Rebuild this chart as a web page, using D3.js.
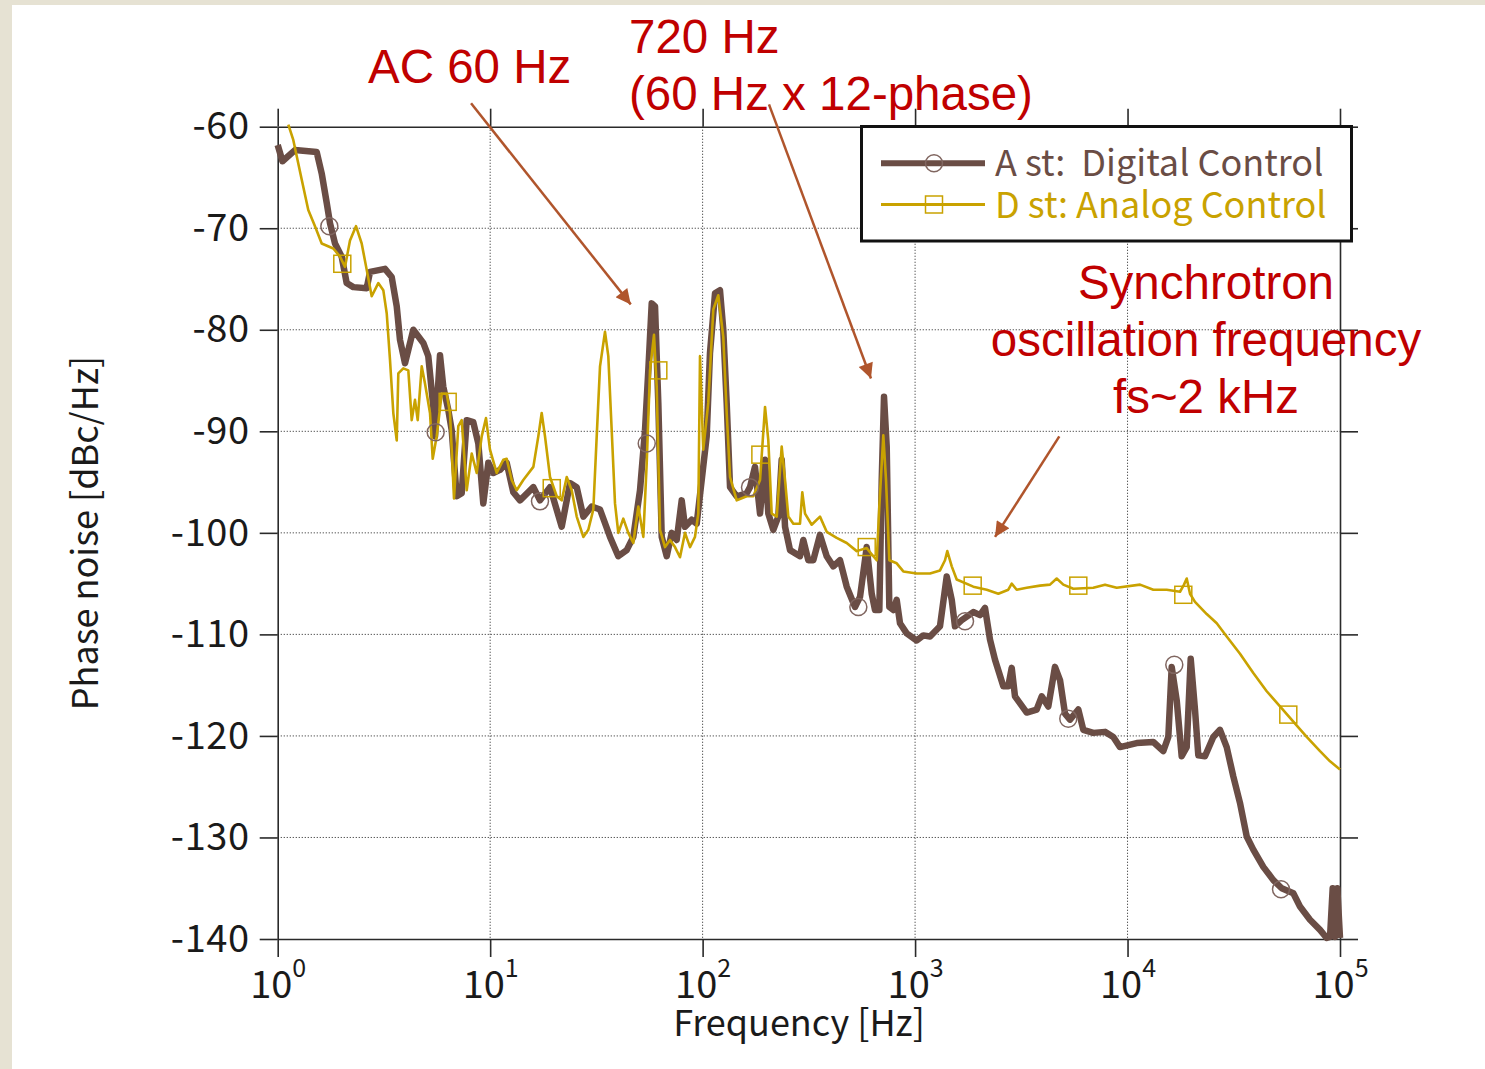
<!DOCTYPE html>
<html>
<head>
<meta charset="utf-8">
<script src="https://cdn.jsdelivr.net/npm/d3@7"></script>
<style>
  body { margin: 0; background: #fff; }
  svg { display: block; }
</style>
</head>
<body>
<script>
// ---- data ----
// A st: Digital Control (brown, thick)
var freqA = [
  1.0, 1.053, 1.206, 1.526, 1.611, 1.701, 1.763, 1.861, 2.001, 2.112,
  2.269, 2.624, 2.719, 3.199, 3.440, 3.633, 3.764, 3.974, 4.347, 4.845,
  5.114, 5.400, 5.501, 5.806, 6.017, 6.353, 6.592, 6.958, 7.345, 7.754,
  8.330, 8.796, 9.284, 9.80, 10.35, 11.12, 11.96, 12.85, 13.82, 15.97,
  17.16, 19.13, 21.72, 23.76, 25.55, 27.45, 30.06, 32.89, 36.65, 40.10,
  43.93, 47.18, 50.74, 53.56, 55.51, 57.60, 59.70, 61.87, 64.19, 67.76,
  71.54, 75.51, 79.72, 82.63, 88.84, 93.78, 99.0, 104.5, 108.3, 114.4,
  120.7, 125.1, 129.8, 134.6, 144.7, 161.3, 167.1, 176.4, 186.3, 196.7,
  203.8, 215.1, 227.1, 235.6, 244.3, 257.9, 287.3, 297.8, 314.4, 331.9,
  356.8, 383.7, 412.2, 443.2, 476.7, 521.5, 550.6, 592.0, 625.0, 647.9,
  678.8, 696.6, 714.1, 735.3, 756.4, 789.9, 819.5, 849.2, 913.1, 1018,
  1093, 1176, 1310, 1409, 1488, 1541, 1658, 1879, 2021, 2134,
  2252, 2378, 2602, 2747, 2850, 2953, 3353, 3736, 3945, 4237,
  4555, 4810, 5077, 5360, 5866, 6191, 6901, 7834, 8570, 9215,
  11040, 13220, 14730, 15560, 16140, 17040, 17980, 18990, 19830, 20770,
  21530, 23150, 25330, 27240, 29290, 31470, 33830, 36380, 39080, 43550,
  48550, 53170, 60290, 64800, 72240, 80540, 86560, 89760, 92380, 94740, 97120, 100000
];
var noiseA = [
  -61.8, -63.4, -62.3, -62.5, -64.6, -67.5, -69.5, -71.5, -72.8, -75.4,
  -75.8, -75.9, -74.3, -74.0, -74.8, -77.7, -81.0, -83.3, -80.0, -81.3,
  -82.6, -87.6, -90.5, -82.5, -85.6, -87.9, -89.9, -96.4, -96.1, -88.9,
  -89.1, -91.2, -97.1, -93.1, -94.1, -93.8, -93.1, -96.0, -96.8, -95.5,
  -96.8, -95.5, -99.4, -95.1, -95.5, -98.4, -97.4, -97.7, -100.4, -102.3,
  -101.7, -100.4, -95.8, -89.9, -84.0, -77.4, -77.7, -87.2, -100.4, -102.3,
  -100.0, -100.7, -96.8, -99.4, -98.7, -99.1, -94.8, -90.5, -82.3, -76.4,
  -76.1, -80.0, -87.2, -95.5, -96.4, -96.1, -95.5, -93.5, -98.1, -92.8,
  -98.1, -99.7, -98.4, -92.8, -99.4, -101.7, -102.3, -100.7, -102.7, -102.7,
  -100.2, -102.3, -103.3, -102.7, -105.3, -107.3, -106.3, -101.4, -106.0, -107.6,
  -107.6, -94.8, -86.6, -91.5, -107.3, -107.6, -106.6, -108.9, -109.9, -110.6,
  -110.1, -110.2, -109.2, -104.3, -106.6, -109.2, -108.6, -107.8, -108.1, -107.4,
  -110.5, -112.5, -115.1, -115.1, -113.3, -116.1, -117.7, -117.4, -116.1, -117.1,
  -113.2, -114.5, -117.8, -118.4, -117.4, -119.4, -119.7, -119.6, -120.1, -121.1,
  -120.7, -120.6, -121.5, -120.1, -113.2, -116.5, -122.0, -121.1, -112.4, -117.4,
  -121.9, -122.0, -120.1, -119.4, -121.1, -124.0, -126.6, -129.9, -131.2, -132.9,
  -134.2, -135.0, -135.5, -136.8, -138.1, -139.1, -139.9, -139.8, -135.0, -139.8, -135.0, -139.9
];

// D st: Analog Control (gold, thin)
var freqD = [
  1.122, 1.184, 1.297, 1.393, 1.498, 1.611, 1.827, 1.965, 2.074, 2.189,
  2.336, 2.485, 2.624, 2.770, 2.975, 3.141, 3.260, 3.378, 3.501, 3.633,
  3.696, 3.902, 4.119, 4.273, 4.428, 4.560, 4.762, 4.935, 5.210, 5.365,
  5.602, 5.914, 6.243, 6.471, 6.758, 7.080, 7.345, 7.754, 8.188, 8.645,
  9.125, 9.560, 9.98, 10.73, 11.53, 11.96, 12.63, 13.33, 14.32, 15.97,
  16.85, 17.48, 18.12, 19.13, 20.57, 21.72, 22.93, 24.20, 25.55, 27.45,
  28.97, 30.59, 31.73, 32.89, 34.72, 35.98, 37.33, 38.69, 40.10, 42.33,
  44.69, 47.18, 49.82, 52.59, 54.57, 56.55, 59.04, 60.79, 63.02, 66.53,
  70.24, 74.13, 78.26, 82.63, 87.22, 92.07, 95.44, 97.20, 100.7, 106.3,
  112.3, 118.5, 125.1, 129.8, 134.6, 144.7, 161.3, 173.2, 186.3, 196.7,
  203.8, 211.4, 223.3, 235.6, 244.3, 253.2, 267.3, 287.3, 294.5, 303.4,
  326.1, 356.8, 383.7, 427.6, 476.7, 531.3, 592.0, 636.0, 659.9, 678.8,
  708.7, 729.8, 756.4, 819.5, 880.3, 1018, 1176, 1310, 1383, 1418,
  1488, 1570, 1879, 2174, 2465, 2747, 2850, 3008, 3353, 3873,
  4316, 4640, 4985, 5556, 6901, 7834, 8892, 11450, 13220, 15290,
  17660, 18440, 18990, 19680, 20770, 23590, 26290, 29290, 33830, 39080,
  45190, 52190, 60290, 69700, 80540, 89760, 100000
];
var noiseD = [
  -59.8, -61.3, -65.2, -68.2, -69.8, -71.5, -72.0, -72.8, -73.8, -71.2,
  -69.8, -71.5, -74.1, -76.7, -75.4, -76.1, -78.4, -83.0, -88.2, -90.9,
  -84.3, -83.8, -84.0, -88.9, -86.9, -88.9, -83.6, -85.3, -88.2, -92.7,
  -90.5, -86.3, -86.3, -88.2, -96.6, -89.5, -88.9, -95.8, -92.2, -94.1,
  -90.5, -88.7, -91.8, -94.1, -92.8, -92.7, -94.8, -95.8, -94.8, -93.5,
  -90.5, -88.2, -90.5, -94.5, -96.4, -96.8, -94.5, -95.8, -98.4, -100.4,
  -99.7, -97.7, -90.5, -83.6, -80.2, -82.6, -89.9, -97.1, -100.0, -98.6,
  -100.0, -101.0, -97.4, -100.4, -93.1, -84.0, -80.5, -85.6, -99.7, -101.4,
  -100.7, -101.4, -102.4, -100.0, -101.4, -100.4, -98.1, -82.6, -91.8, -87.2,
  -78.0, -76.6, -80.7, -88.2, -94.5, -96.8, -96.4, -96.4, -94.8, -87.6,
  -90.9, -98.1, -98.4, -91.5, -94.8, -98.4, -99.1, -99.1, -96.0, -98.1,
  -99.2, -98.4, -99.9, -100.5, -101.0, -101.8, -101.5, -102.3, -102.7, -97.4,
  -90.4, -94.8, -102.7, -103.0, -103.8, -104.0, -104.0, -103.7, -102.7, -101.8,
  -103.3, -104.6, -105.3, -105.6, -106.0, -105.6, -105.0, -105.6, -105.4, -105.2,
  -105.1, -104.5, -105.1, -105.5, -105.4, -105.1, -105.4, -105.1, -105.6, -105.6,
  -105.8, -105.1, -104.5, -106.0, -106.8, -108.0, -108.9, -110.2, -111.9, -113.8,
  -115.6, -117.1, -118.6, -120.1, -121.5, -122.5, -123.3
];

// marker symbols along each trace
var markFreqA = [1.750, 5.54, 17.16, 54.57, 167.1, 540.7, 1718, 5262, 16600, 52770];
var markNoiseA = [-69.8, -90.1, -96.9, -91.2, -95.5, -107.3, -108.7, -118.3, -113.0, -135.1];
var markFreqD = [2.014, 6.31, 19.49, 61.87, 187, 592, 1867, 5866, 18300, 57110];
var markNoiseD = [-73.5, -87.1, -95.6, -84.0, -92.3, -101.4, -105.2, -105.2, -106.1, -117.9];

// axes
var xDecades = [1, 10, 100, 1000, 10000, 100000];
var yTicks = [-60, -70, -80, -90, -100, -110, -120, -130, -140];

// legend + annotations
var legendLabels = ["A st:  Digital Control", "D st: Analog Control"];
var annoAC = ["AC 60 Hz"];
var anno720 = ["720 Hz", "(60 Hz x 12-phase)"];
var annoSync = ["Synchrotron", "oscillation frequency", "fs~2 kHz"];
// arrows: [fromFreq, fromNoise, toFreq, toNoise]
var arrows = [
  [8.13, -57.7, 45.9, -77.5],
  [205.3, -57.8, 620, -84.8],
  [4774, -90.5, 2378, -100.4]
];

var W = 1485, H = 1069;
var BROWN = "#6a4d45", GOLD = "#c9a200", RED = "#c00000", ARROW = "#b0552c";
var LABEL_FONT = "'Noto Sans CJK JP', 'Noto Sans', sans-serif";
var ANNO_FONT = "'Liberation Sans', Arial, sans-serif";

var svg = d3.select("body").append("svg")
    .attr("width", W)
    .attr("height", H);

svg.append("rect").attr("width", W).attr("height", H).attr("fill", "#fff");
svg.append("rect").attr("width", W).attr("height", 5).attr("fill", "#e6e2d3");
svg.append("rect").attr("width", 12).attr("height", H).attr("fill", "#e6e2d3");

var x = d3.scaleLog().domain([1, 1e5]).range([277.7, 1340]);
var y = d3.scaleLinear().domain([-60, -140]).range([126.7, 939]);

// dotted grid
var grid = svg.append("g")
    .attr("stroke", "#444")
    .attr("stroke-width", 1)
    .attr("stroke-dasharray", "1.2,1.8");
grid.selectAll("line.v")
    .data(xDecades.slice(1, -1))
  .enter().append("line")
    .attr("class", "v")
    .attr("x1", d => x(d)).attr("x2", d => x(d))
    .attr("y1", y(-60)).attr("y2", y(-140));
grid.selectAll("line.h")
    .data(yTicks.slice(1, -1))
  .enter().append("line")
    .attr("class", "h")
    .attr("y1", d => y(d)).attr("y2", d => y(d))
    .attr("x1", x(1)).attr("x2", x(1e5));

// frame with outward ticks on all four sides
function styleAxis(g) {
  g.selectAll("path, line").attr("stroke", "#2a2a2a").attr("stroke-width", 1.6);
  g.attr("font-family", LABEL_FONT);
}

svg.append("g")
    .attr("transform", "translate(" + x(1) + ",0)")
    .call(d3.axisLeft(y).tickValues(yTicks).tickSize(18).tickSizeOuter(0)
      .tickPadding(10).tickFormat(d => String(d)))
    .call(styleAxis)
    .call(g => g.selectAll(".tick text")
      .attr("font-size", 38).attr("letter-spacing", 0.6).attr("fill", "#1a1a1a"));

svg.append("g")
    .attr("transform", "translate(" + x(1e5) + ",0)")
    .call(d3.axisRight(y).tickValues(yTicks).tickSize(18).tickSizeOuter(0).tickFormat(""))
    .call(styleAxis);

svg.append("g")
    .attr("transform", "translate(0," + y(-60) + ")")
    .call(d3.axisTop(x).tickValues(xDecades).tickSize(18).tickSizeOuter(0).tickFormat(""))
    .call(styleAxis);

svg.append("g")
    .attr("transform", "translate(0," + y(-140) + ")")
    .call(d3.axisBottom(x).tickValues(xDecades).tickSize(18).tickSizeOuter(0).tickFormat(""))
    .call(styleAxis)
    .call(g => g.selectAll(".tick text").each(function(d) {
      var t = d3.select(this)
          .attr("dy", null)
          .attr("y", 59)
          .attr("font-size", 38)
          .attr("fill", "#1a1a1a")
          .attr("text-anchor", "middle");
      t.append("tspan").text("10");
      t.append("tspan").attr("dy", -21).attr("font-size", 25)
          .text(Math.round(Math.log10(d)));
    }));

// axis titles
svg.append("text")
    .attr("x", 799).attr("y", 1036)
    .attr("text-anchor", "middle")
    .attr("font-family", LABEL_FONT)
    .attr("font-size", 36)
    .attr("fill", "#1a1a1a")
    .text("Frequency [Hz]");

svg.append("text")
    .attr("transform", "translate(98,533) rotate(-90)")
    .attr("text-anchor", "middle")
    .attr("font-family", LABEL_FONT)
    .attr("font-size", 36)
    .attr("fill", "#1a1a1a")
    .text("Phase noise [dBc/Hz]");

// traces
var line = d3.line()
    .x(d => x(d[0]))
    .y(d => y(d[1]));

svg.append("path")
    .datum(d3.zip(freqA, noiseA))
    .attr("d", line)
    .attr("fill", "none")
    .attr("stroke", BROWN)
    .attr("stroke-width", 6.5)
    .attr("stroke-linejoin", "round");

svg.append("path")
    .datum(d3.zip(freqD, noiseD))
    .attr("d", line)
    .attr("fill", "none")
    .attr("stroke", GOLD)
    .attr("stroke-width", 2.6)
    .attr("stroke-linejoin", "round");

svg.append("g").selectAll("circle")
    .data(d3.zip(markFreqA, markNoiseA))
  .enter().append("circle")
    .attr("cx", d => x(d[0])).attr("cy", d => y(d[1]))
    .attr("r", 8.5)
    .attr("fill", "none")
    .attr("stroke", "#806660")
    .attr("stroke-width", 1.5);

svg.append("g").selectAll("rect")
    .data(d3.zip(markFreqD, markNoiseD))
  .enter().append("rect")
    .attr("x", d => x(d[0]) - 8.5).attr("y", d => y(d[1]) - 8.5)
    .attr("width", 17).attr("height", 17)
    .attr("fill", "none")
    .attr("stroke", GOLD)
    .attr("stroke-width", 1.5);

// legend
var lg = svg.append("g");
lg.append("rect")
    .attr("x", 861.5).attr("y", 126.5)
    .attr("width", 490).attr("height", 114.5)
    .attr("fill", "#fff")
    .attr("stroke", "#111")
    .attr("stroke-width", 3);
var rows = [
  {label: legendLabels[0], color: BROWN, width: 6, y: 163.3, sym: "circle"},
  {label: legendLabels[1], color: GOLD, width: 3, y: 204.5, sym: "square"}
];
rows.forEach(function(r) {
  lg.append("line")
      .attr("x1", 881).attr("x2", 985)
      .attr("y1", r.y).attr("y2", r.y)
      .attr("stroke", r.color).attr("stroke-width", r.width);
  if (r.sym === "circle") {
    lg.append("circle").attr("cx", 934).attr("cy", r.y).attr("r", 8.5)
        .attr("fill", "none").attr("stroke", "#806660").attr("stroke-width", 1.5);
  } else {
    lg.append("rect").attr("x", 925.5).attr("y", r.y - 8.5)
        .attr("width", 17).attr("height", 17)
        .attr("fill", "none").attr("stroke", r.color).attr("stroke-width", 1.5);
  }
  lg.append("text")
      .attr("x", 995).attr("y", r.y + 13)
      .attr("font-family", LABEL_FONT)
      .attr("font-size", 36)
      .attr("fill", r.color)
      .style("white-space", "pre")
      .text(r.label);
});

// annotations
svg.append("defs").append("marker")
    .attr("id", "arrowhead")
    .attr("viewBox", "0 0 10 10")
    .attr("refX", 10).attr("refY", 5)
    .attr("markerWidth", 8).attr("markerHeight", 6)
    .attr("orient", "auto")
  .append("path")
    .attr("d", "M0,0L10,5L0,10z")
    .attr("fill", ARROW);

svg.append("g").selectAll("line")
    .data(arrows)
  .enter().append("line")
    .attr("x1", d => x(d[0])).attr("y1", d => y(d[1]))
    .attr("x2", d => x(d[2])).attr("y2", d => y(d[3]))
    .attr("stroke", ARROW)
    .attr("stroke-width", 2.5)
    .attr("marker-end", "url(#arrowhead)");

function annoText(lines, x0, y0, dy, anchor) {
  svg.append("g").selectAll("text")
      .data(lines)
    .enter().append("text")
      .attr("x", x0)
      .attr("y", (d, i) => y0 + i * dy)
      .attr("text-anchor", anchor)
      .attr("font-family", ANNO_FONT)
      .attr("font-size", 47.5)
      .attr("fill", RED)
      .text(d => d);
}
annoText(annoAC, 368, 82.7, 0, "start");
annoText(anno720, 629, 53.3, 56.7, "start");
annoText(annoSync, 1206, 299.3, 57, "middle");
</script>
</body>
</html>
